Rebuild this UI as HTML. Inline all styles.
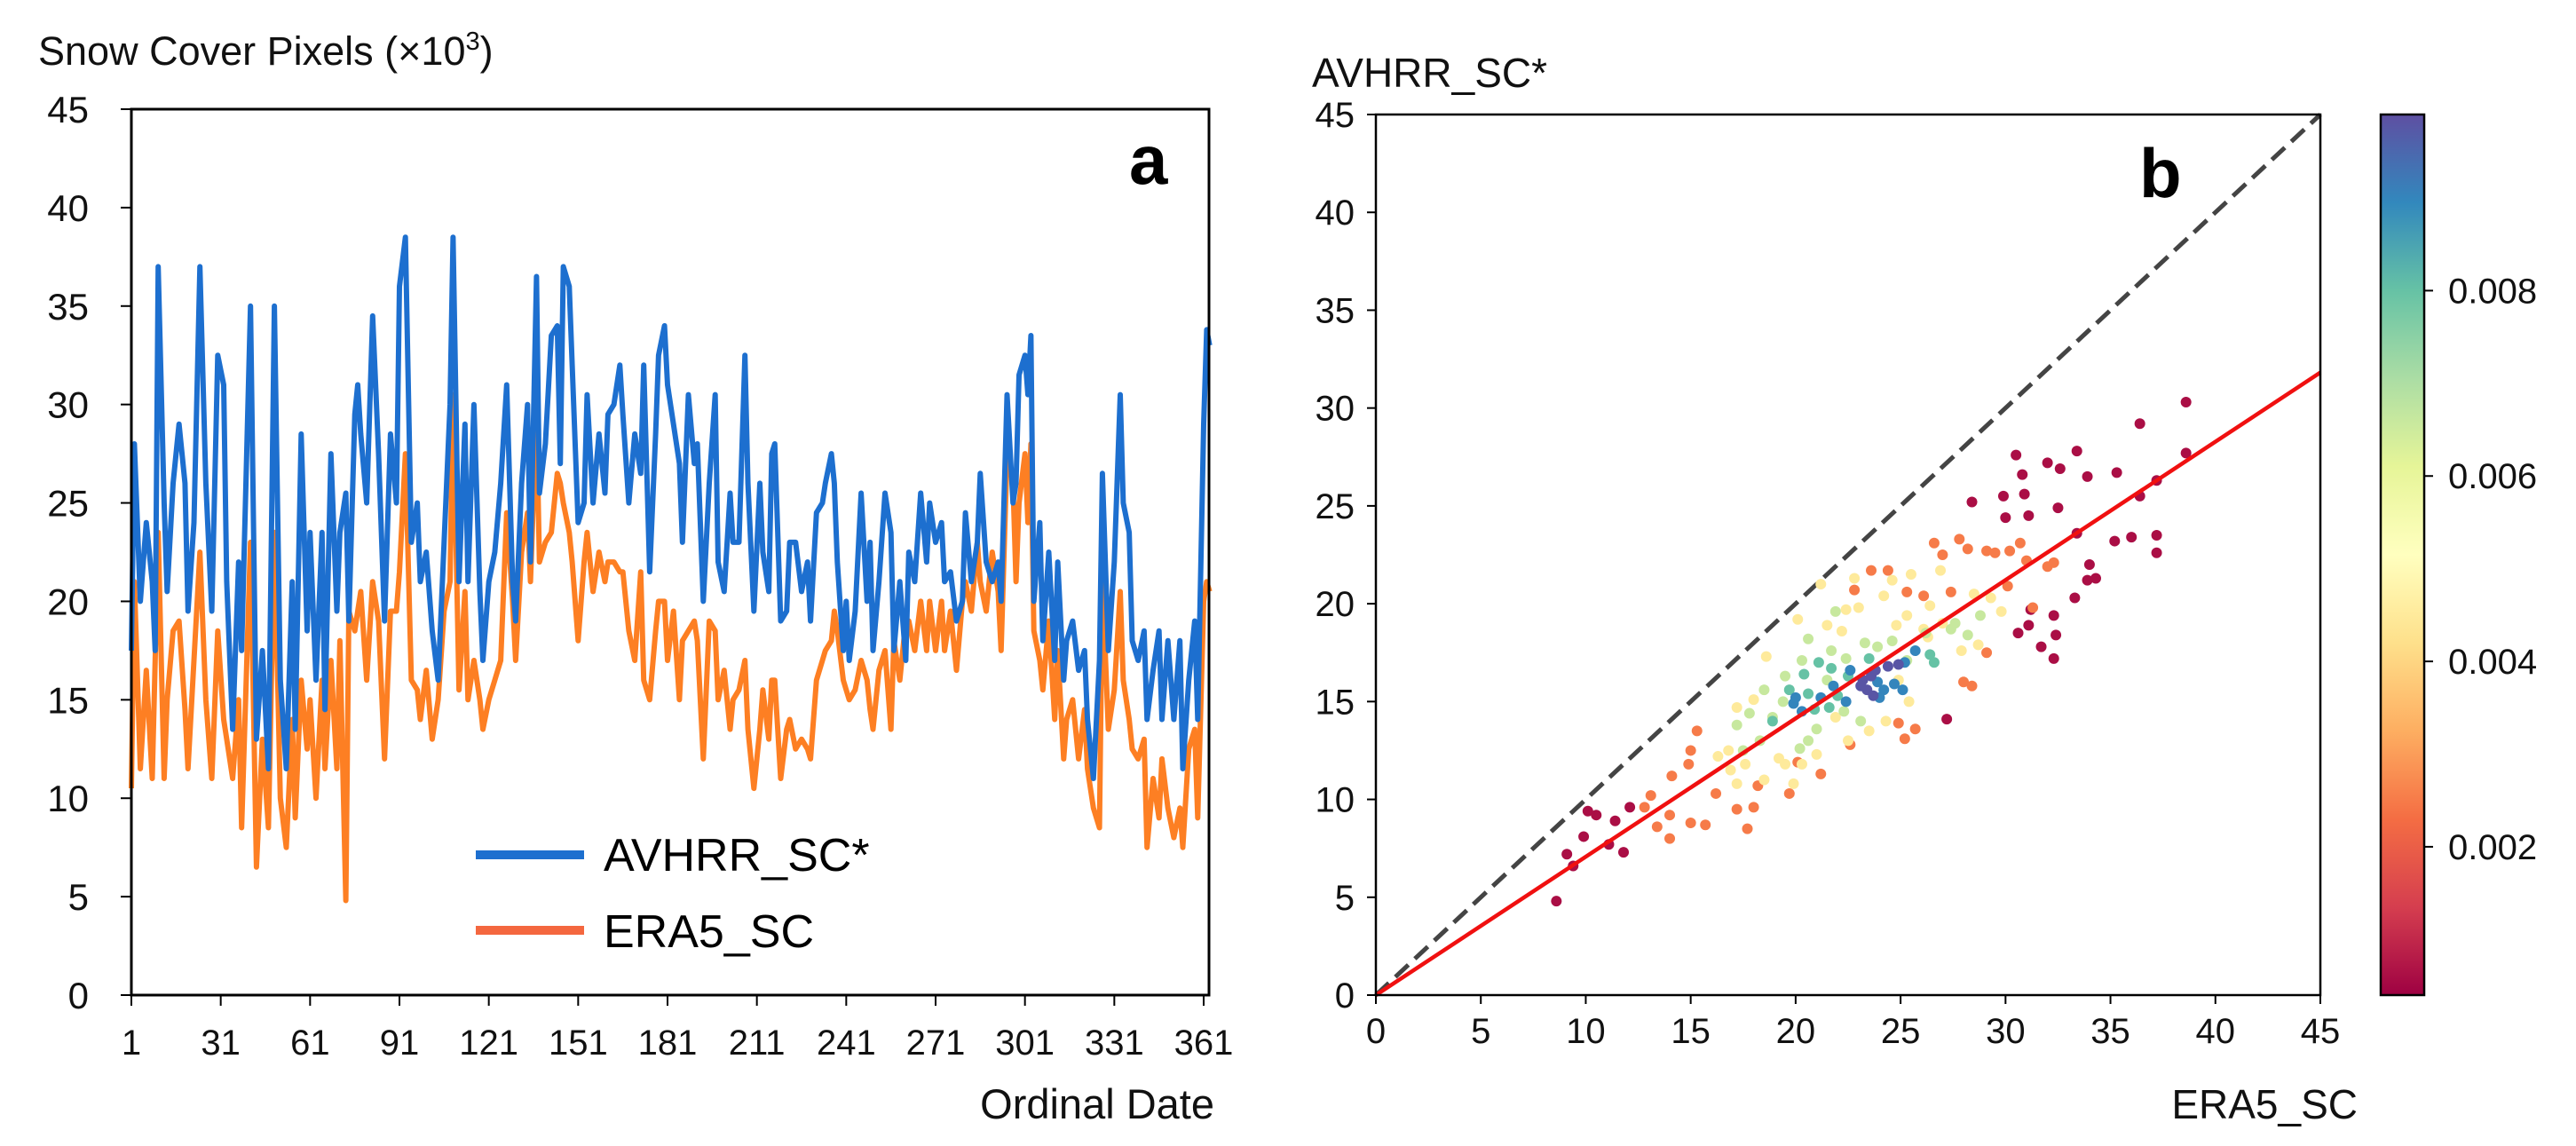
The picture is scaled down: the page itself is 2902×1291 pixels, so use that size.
<!DOCTYPE html>
<html><head><meta charset="utf-8"><style>
html,body{margin:0;padding:0;background:#fff;}
svg{display:block;font-family:"Liberation Sans",sans-serif;}
</style></head><body>
<svg id="fig" width="2902" height="1291" viewBox="0 0 2902 1291" xmlns="http://www.w3.org/2000/svg">
<rect width="2902" height="1291" fill="#fff"/>
<g id="panelA"></g>
<g id="panelB"></g>
</svg>
<script>
// ---------- Panel a data ----------
const days = [1,2,4,6,8,9,10,12,13,15,17,19,20,22,24,26,28,30,32,33,35,37,38,41,43,45,47,49,51,53,55,56,58,60,61,63,65,66,68,70,71,73,74,76,77,78,80,82,84,86,88,90,91,93,95,97,98,100,102,104,106,108,109,111,113,114,116,118,119,121,123,125,127,129,130,132,134,135,137,138,140,142,144,145,146,148,149,151,153,154,156,158,160,161,163,165,166,168,170,172,173,175,177,178,180,181,183,185,186,188,190,191,193,195,197,198,200,202,203,205,207,208,210,212,213,215,216,217,219,221,222,224,226,228,229,231,233,234,236,237,238,240,241,242,244,246,248,249,250,252,254,256,257,259,261,262,264,266,268,269,271,273,274,276,278,280,281,283,285,286,288,290,292,293,295,297,298,299,301,302,303,304,306,307,309,311,312,314,315,317,319,321,322,324,326,327,329,331,333,334,336,337,339,341,342,344,346,347,349,351,353,354,356,358,359,361,362,363];
const avhrr = [17.5,28,20,24,21,17.5,37,25,20.5,26,29,26,19.5,24,37,26,19.5,32.5,31,21,13.5,22,17.5,35,13,17.5,11.5,35,16,11.5,21,13.5,28.5,18.5,23.5,16,23.5,14.5,27.5,19.5,23.5,25.5,19,29.5,31,28.5,25,34.5,27.5,19,28.5,25,36,38.5,23,25,21,22.5,18.5,16,23,30,38.5,21,29,21,30,20.5,17,21,22.5,26,31,21,19,26,30,22,36.5,25.5,28,33.5,34,27,37,36,32,24,25,30.5,25,28.5,25.5,29.5,30,32,29.5,25,28.5,26.5,32,21.5,28.5,32.5,34,31,29,27,23,30.5,27,28,20,26,30.5,22,20.5,25.5,23,23,32.5,26,19.5,26,22.5,20.5,27.5,28,19,19.5,23,23,20.5,22,19,24.5,25,26,27.5,26,22,17.5,20,17,19.5,25.5,20,23,17.5,21,25.5,23.5,17.5,21,17,22.5,21,25.5,22,25,23,24,21,21.5,19,20,24.5,21,23,26.5,22,21,22,20,30.5,25,26,31.5,32.5,30.5,33.5,20,24,18,22.5,17,22,16,18,19,16.5,17.5,14,11,17,26.5,17.5,22,30.5,25,23.5,18,17,18.5,14,16.5,18.5,14,18,14,18,11.5,16,19,14,29,33.8,33];
const era5 = [10.5,21,11.5,16.5,11,17,23.5,11,15,18.5,19,14.5,11.5,17,22.5,15,11,18.5,14,13,11,15,8.5,23,6.5,13,8.5,23.5,10,7.5,14,9,16,12.5,15,10,16,11.5,17,11.5,18,4.8,19.5,18.5,19.5,20.5,16,21,19,12,19.5,19.5,21.5,27.5,16,15.5,14,16.5,13,15,19.5,21,30.5,15.5,20.5,15,17,15,13.5,15,16,17,24.5,20,17,22.5,24.5,21,29.5,22,23,23.5,26.5,26,25,23.5,22,18,22,23.5,20.5,22.5,21,22,22,21.5,21.5,18.5,17,21.5,16,15,18.5,20,20,17,19.5,15,18,18.5,19,18,12,19,18.5,15,16.5,13.5,15,15.5,17,13.5,10.5,13.5,15.5,13,16,16,11,13.5,14,12.5,13,12.5,12,16,17,17.5,18,19.5,18.5,16,15.5,15,15.5,17,16,14.5,13.5,16.5,17.5,13.5,18,16,19,19,17.5,20,17.5,20,17.5,20,17.5,19.5,16.5,20,21,19.5,23,21,19.5,22.5,20.5,17.5,27.5,26,21,25,27.5,24,28,18.5,17,15.5,19,14,17.5,12,14,15,12,14.5,11.5,9.5,8.5,21,13.5,15.5,20.5,16,14,12.5,12,13,7.5,11,9,12,9.5,8,9.5,7.5,12.5,13.5,9,20,21,20.5];
const yTicksA = [0,5,10,15,20,25,30,35,40,45];
const xTicksA = [1,31,61,91,121,151,181,211,241,271,301,331,361];

// ---------- Panel b data ----------
const groupDensity = [0.0006,0.0025,0.0045,0.0066,0.008,0.009,0.0098];
const ptsRed = [[8.6,4.8],[9.1,7.2],[9.4,6.6],[10.1,9.4],[10.5,9.2],[9.9,8.1],[11.1,7.7],[11.8,7.3],[11.4,8.9],[12.1,9.6],[30.5,27.6],[30.8,26.6],[32.0,27.2],[32.6,26.9],[33.4,27.8],[33.9,26.5],[35.3,26.7],[36.4,29.2],[38.6,30.3],[38.6,27.7],[37.2,26.3],[36.4,25.5],[37.2,23.5],[37.2,22.6],[36.0,23.4],[35.2,23.2],[32.3,17.2],[31.7,17.8],[32.4,18.4],[32.3,19.4],[28.4,25.2],[29.9,25.5],[30.9,25.6],[27.2,14.1],[33.9,21.2],[34.3,21.3],[33.3,20.3],[31.1,18.9],[31.2,19.7],[30.6,18.5],[32.5,24.9],[31.1,24.5],[30.0,24.4],[33.4,23.6],[34.0,22.0]];
const ptsOrange = [[12.8,9.6],[13.1,10.2],[13.4,8.6],[14.0,9.2],[14.0,8.0],[14.1,11.2],[15.0,8.8],[15.3,13.5],[15.7,8.7],[15.0,12.5],[14.9,11.8],[16.2,10.3],[17.2,9.5],[17.7,8.5],[18.0,9.6],[18.2,10.7],[19.7,10.3],[20.1,11.9],[21.2,11.3],[22.6,12.8],[22.8,20.7],[23.6,21.7],[24.4,21.7],[25.2,13.1],[25.7,13.6],[25.3,20.6],[26.6,23.1],[27.0,22.5],[27.8,23.3],[28.0,16.0],[28.4,15.8],[29.1,22.7],[29.5,22.6],[30.2,22.7],[30.7,23.1],[31.0,22.2],[32.0,21.9],[32.3,22.1],[31.3,19.8],[30.1,20.9],[29.1,17.5],[26.1,20.4],[24.9,13.9],[27.4,20.6],[28.2,22.8]];
const ptsYellow = [[16.3,12.2],[16.8,12.5],[17.2,10.8],[16.9,11.5],[17.6,11.8],[18.5,11.0],[19.2,12.1],[19.5,11.8],[19.9,10.8],[20.3,11.8],[21.0,12.3],[17.2,14.7],[18.0,15.1],[18.6,17.3],[20.1,19.2],[21.5,18.9],[22.2,18.6],[22.4,19.7],[23.0,19.8],[24.2,20.4],[24.6,21.2],[25.5,21.5],[25.3,19.4],[26.1,18.7],[27.0,19.0],[24.9,16.1],[25.4,15.0],[24.3,14.0],[23.5,13.5],[22.5,13.0],[21.9,14.2],[26.4,19.9],[28.5,20.5],[29.3,20.3],[29.8,19.6],[28.7,17.9],[27.9,17.6],[26.3,18.3],[24.8,18.9],[21.2,21.0],[22.8,21.3],[26.9,21.7]];
const ptsGreen = [[17.2,13.8],[17.8,14.4],[18.3,13.0],[18.9,14.2],[17.5,12.5],[20.6,13.0],[20.2,12.6],[21.0,13.6],[19.5,16.3],[20.3,17.1],[20.6,18.2],[21.7,17.6],[21.9,19.6],[22.4,17.2],[23.3,18.0],[24.6,18.1],[26.2,18.5],[27.6,19.0],[28.2,18.4],[28.8,19.4],[27.4,18.7],[23.1,14.0],[22.3,14.5],[19.4,15.0],[18.5,15.6],[25.3,17.1],[23.9,17.8],[21.5,16.1]];
const ptsTeal = [[18.9,14.0],[19.7,15.6],[20.4,16.4],[21.1,17.0],[21.7,16.7],[22.0,15.3],[20.9,14.6],[22.5,16.3],[23.5,17.2],[26.4,17.4],[26.6,17.0],[21.6,14.7],[20.6,15.4]];
const ptsBlue = [[19.9,14.9],[20.3,14.5],[21.2,15.2],[21.8,15.8],[22.4,15.0],[22.6,16.6],[23.9,16.0],[24.2,15.6],[24.7,15.9],[25.1,15.6],[24.0,15.2],[25.7,17.6],[25.2,17.0],[20.0,15.2]];
const ptsPurple = [[23.2,16.1],[23.4,15.6],[23.6,16.3],[23.8,16.6],[24.4,16.8],[24.9,16.9],[23.1,15.8],[23.7,15.3]];
const fitSlope = [0.707];
const ticksB = [0,5,10,15,20,25,30,35,40,45];
const cbarTicks = [0.002,0.004,0.006,0.008];
const cbarRange = [0.0004,0.0099];

const NS = "http://www.w3.org/2000/svg";
function mk(parent, tag, attrs, text) {
  const el = document.createElementNS(NS, tag);
  for (const k in attrs) el.setAttribute(k, attrs[k]);
  if (text !== undefined) el.textContent = text;
  parent.appendChild(el);
  return el;
}

// ---------- Panel a ----------
const A = document.getElementById('panelA');
const ax0 = 148, ax1 = 1362, ay0 = 1121, ay1 = 123;
const xA = d => ax0 + (d - 1) * (1356 - 148) / 360;
const yA = v => ay0 - v * (ay0 - ay1) / 45;

function seriesPath(vals, color, name) {
  let d = '';
  vals.forEach((v, i) => { d += (i ? 'L' : 'M') + xA(days[i]).toFixed(1) + ',' + yA(v).toFixed(1); });
  const p = mk(A, 'path', {d: d, fill: 'none', stroke: color, 'stroke-width': 6, 'stroke-linejoin': 'round'});
  
  
}
seriesPath(era5, '#fd7f23', 'era5-line');
seriesPath(avhrr, '#1d6fcf', 'avhrr-line');

const frameA = mk(A, 'rect', {x: ax0, y: ay1, width: ax1 - ax0, height: ay0 - ay1, fill: 'none', stroke: '#000', 'stroke-width': 3});



yTicksA.forEach(t => {
  const y = yA(t);
  mk(A, 'line', {x1: ax0 - 12, x2: ax0, y1: y, y2: y, stroke: '#000', 'stroke-width': 2});
  const tx = mk(A, 'text', {x: 100, y: y + 15, 'text-anchor': 'end', 'font-size': 42, fill: '#111'}, String(t));
  
  
});
xTicksA.forEach(t => {
  const x = xA(t);
  mk(A, 'line', {x1: x, x2: x, y1: ay0, y2: ay0 + 12, stroke: '#000', 'stroke-width': 2});
  const tx = mk(A, 'text', {x: x, y: 1188, 'text-anchor': 'middle', 'font-size': 40, fill: '#111'}, String(t));
  
  
});

const yTitle = mk(A, 'text', {x: 43, y: 73, 'font-size': 45, fill: '#111'});


yTitle.innerHTML = 'Snow Cover Pixels (×10<tspan dy="-17" font-size="29">3</tspan><tspan dy="17">)</tspan>';
const xTitle = mk(A, 'text', {x: 1368, y: 1260, 'text-anchor': 'end', 'font-size': 47, fill: '#111'}, 'Ordinal Date');


const labA = mk(A, 'text', {x: 1272, y: 207, 'font-size': 78, 'font-weight': 'bold', fill: '#000'}, 'a');



const legA = mk(A, 'g', {});


mk(legA, 'line', {x1: 536, x2: 658, y1: 963, y2: 963, stroke: '#1d6fcf', 'stroke-width': 10});
const le1 = mk(legA, 'text', {x: 680, y: 981, 'font-size': 52, fill: '#000'}, 'AVHRR_SC*');


mk(legA, 'line', {x1: 536, x2: 658, y1: 1048, y2: 1048, stroke: '#f4673f', 'stroke-width': 10});
const le2 = mk(legA, 'text', {x: 680, y: 1067, 'font-size': 52, fill: '#000'}, 'ERA5_SC');



// ---------- Panel b ----------
const B = document.getElementById('panelB');
const bx0 = 1550, bx1 = 2614, by0 = 1121, by1 = 129;
const xB = v => bx0 + v * (bx1 - bx0) / 45;
const yB = v => by0 - v * (by0 - by1) / 45;

const spec = ['#9e0142','#d53e4f','#f46d43','#fdae61','#fee08b','#ffffbf','#e6f598','#abdda4','#66c2a5','#3288bd','#5e4fa2'];
function hex(c){return [parseInt(c.slice(1,3),16),parseInt(c.slice(3,5),16),parseInt(c.slice(5,7),16)];}
function cmap(t){
  t = Math.max(0, Math.min(1, t)) * 10;
  const i = Math.min(9, Math.floor(t)), f = t - i;
  const a = hex(spec[i]), b = hex(spec[i+1]);
  return 'rgb(' + a.map((v,k)=>Math.round(v + (b[k]-v)*f)).join(',') + ')';
}
const normD = d => (d - cbarRange[0]) / (cbarRange[1] - cbarRange[0]);

const diag = mk(B, 'line', {x1: xB(0), y1: yB(0), x2: xB(45), y2: yB(45), stroke: '#444', 'stroke-width': 5, 'stroke-dasharray': '20,10'});



const groups = [ptsRed, ptsOrange, ptsYellow, ptsGreen, ptsTeal, ptsBlue, ptsPurple];
groups.forEach((g, gi) => {
  const col = cmap(normD(groupDensity[gi]));
  g.forEach(p => {
    const c = mk(B, 'circle', {cx: xB(p[0]), cy: yB(p[1]), r: 6, fill: col});
    
    
  });
});

const fit = mk(B, 'line', {x1: xB(0), y1: yB(0), x2: xB(45), y2: yB(45 * fitSlope[0]), stroke: '#f01010', 'stroke-width': 4.5});



const frameB = mk(B, 'rect', {x: bx0, y: by1, width: bx1 - bx0, height: by0 - by1, fill: 'none', stroke: '#000', 'stroke-width': 2.5});



ticksB.forEach(t => {
  mk(B, 'line', {x1: bx0 - 10, x2: bx0, y1: yB(t), y2: yB(t), stroke: '#000', 'stroke-width': 2});
  const ty = mk(B, 'text', {x: 1526, y: yB(t) + 14, 'text-anchor': 'end', 'font-size': 40, fill: '#111'}, String(t));
  
  
  mk(B, 'line', {x1: xB(t), x2: xB(t), y1: by0, y2: by0 + 10, stroke: '#000', 'stroke-width': 2});
  const tx = mk(B, 'text', {x: xB(t), y: 1175, 'text-anchor': 'middle', 'font-size': 40, fill: '#111'}, String(t));
  
  
});

const byT = mk(B, 'text', {x: 1478, y: 98, 'font-size': 46, fill: '#111'}, 'AVHRR_SC*');


const bxT = mk(B, 'text', {x: 2656, y: 1260, 'text-anchor': 'end', 'font-size': 46, fill: '#111'}, 'ERA5_SC');


const labB = mk(B, 'text', {x: 2410, y: 222, 'font-size': 78, 'font-weight': 'bold', fill: '#000'}, 'b');



// colorbar
const cbx0 = 2682, cbx1 = 2731;
const defs = mk(B, 'defs', {});
const grad = mk(defs, 'linearGradient', {id: 'cbg', x1: 0, y1: 1, x2: 0, y2: 0});
for (let i = 0; i <= 20; i++) mk(grad, 'stop', {offset: i / 20, 'stop-color': cmap(i / 20)});
const cb = mk(B, 'rect', {x: cbx0, y: by1, width: cbx1 - cbx0, height: by0 - by1, fill: 'url(#cbg)', stroke: '#000', 'stroke-width': 2.5});


const yC = v => by0 - normD(v) * (by0 - by1);
cbarTicks.forEach(t => {
  mk(B, 'line', {x1: cbx1, x2: cbx1 + 10, y1: yC(t), y2: yC(t), stroke: '#000', 'stroke-width': 2});
  const tx = mk(B, 'text', {x: 2758, y: yC(t) + 14, 'font-size': 40, fill: '#111'}, t.toFixed(3));
  
  
});
</script>
</body></html>
